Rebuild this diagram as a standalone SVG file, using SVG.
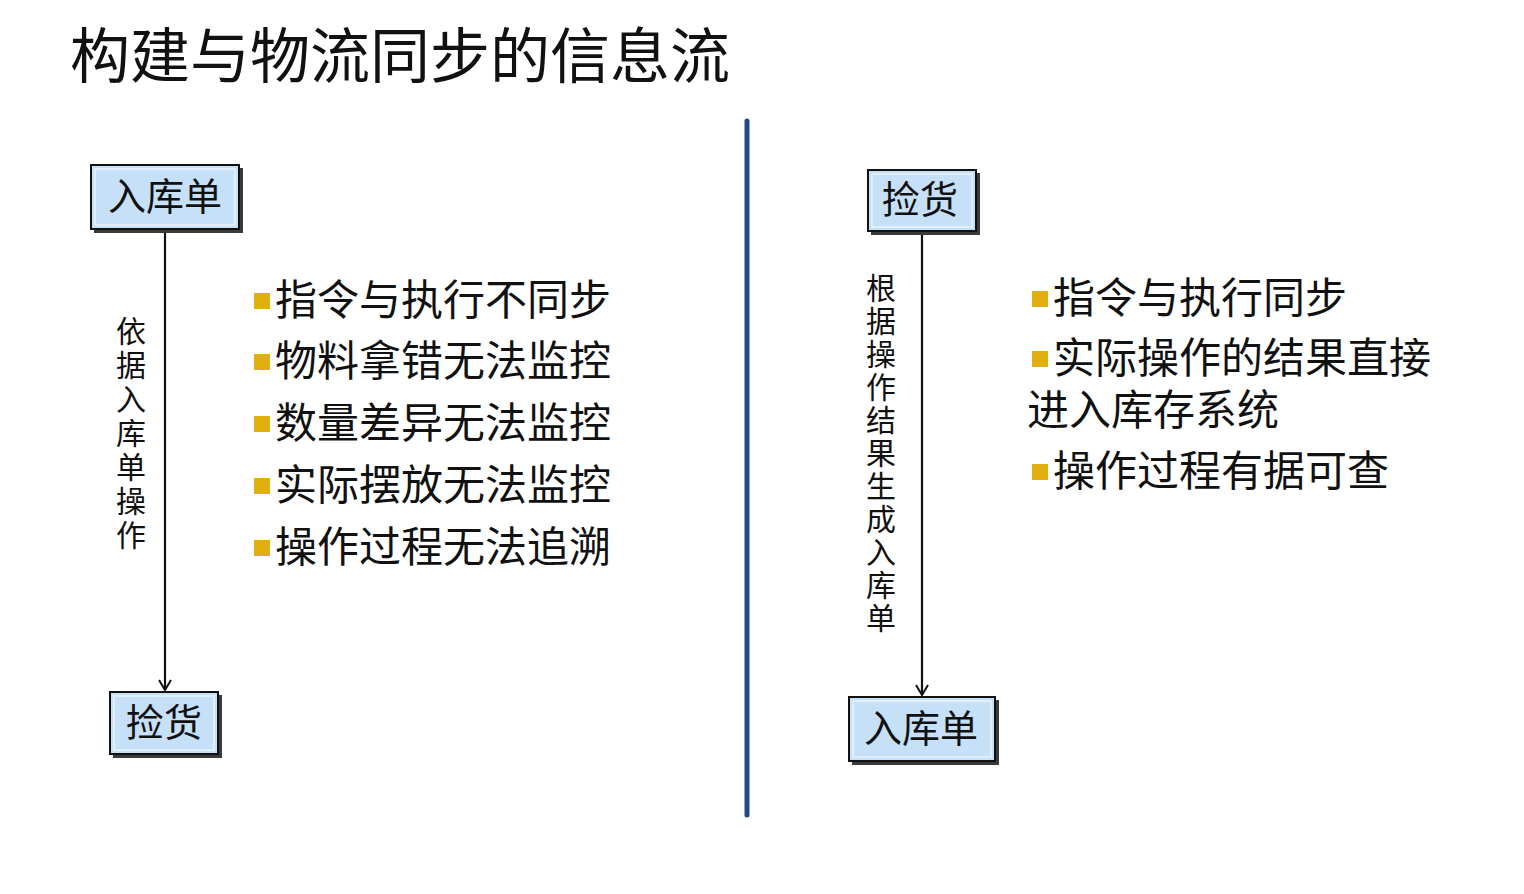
<svg xmlns="http://www.w3.org/2000/svg" width="1524" height="894" viewBox="0 0 1524 894">
<style>
text{font-family:"Noto Sans CJK SC","Noto Sans",sans-serif;fill:#111}
.box{fill:#c6e0f8;stroke:#111;stroke-width:2}
.inner{fill:none;stroke:#e8f3fd;stroke-width:1.5}
.sh{fill:#3a3a3a}
.bt{font-size:38px;text-anchor:middle}
.li{font-size:42px}
.vt{font-size:30px;text-anchor:middle}
.sq{fill:#e0ae10}
.conn{stroke:#111;stroke-width:2.2;fill:none}
</style>
<defs>
<marker id="ah" markerWidth="14" markerHeight="14" refX="12" refY="7" orient="auto" markerUnits="userSpaceOnUse" viewBox="0 0 14 14">
<path d="M2,1 L12,7 L2,13" fill="none" stroke="#111" stroke-width="2"/>
</marker>
</defs>
<rect width="1524" height="894" fill="#fff"/>
<text x="70" y="78" style="font-size:60px">构建与物流同步的信息流</text>
<line x1="747" y1="121" x2="747" y2="815" stroke="#1f4a86" stroke-width="5" stroke-linecap="round"/>
<g id="connectors">
<line class="conn" x1="165" y1="231" x2="165" y2="690" marker-end="url(#ah)"/>
<line class="conn" x1="922" y1="233" x2="922" y2="695" marker-end="url(#ah)"/>
</g>
<g id="left-top">
<rect class="sh" x="94" y="168" width="149" height="65"/>
<rect class="box" x="91" y="165" width="148" height="64"/>
<rect class="inner" x="95" y="169" width="140" height="56"/>
<text class="bt" x="165" y="210">入库单</text>
</g>
<g id="left-bottom">
<rect class="sh" x="113" y="695" width="109" height="63"/>
<rect class="box" x="110" y="692" width="108" height="62"/>
<rect class="inner" x="114" y="696" width="100" height="54"/>
<text class="bt" x="164" y="736">捡货</text>
</g>
<g id="left-label">
<text class="vt" x="131" y="342">依</text>
<text class="vt" x="131" y="376">据</text>
<text class="vt" x="131" y="410">入</text>
<text class="vt" x="131" y="444">库</text>
<text class="vt" x="131" y="478">单</text>
<text class="vt" x="131" y="512">操</text>
<text class="vt" x="131" y="546">作</text>
</g>
<g id="left-list">
<rect class="sq" x="254" y="293" width="16" height="16"/>
<text class="li" x="275" y="315">指令与执行不同步</text>
<rect class="sq" x="254" y="354" width="16" height="16"/>
<text class="li" x="275" y="376">物料拿错无法监控</text>
<rect class="sq" x="254" y="416" width="16" height="16"/>
<text class="li" x="275" y="438">数量差异无法监控</text>
<rect class="sq" x="254" y="478" width="16" height="16"/>
<text class="li" x="275" y="500">实际摆放无法监控</text>
<rect class="sq" x="254" y="540" width="16" height="16"/>
<text class="li" x="275" y="562">操作过程无法追溯</text>
</g>
<g id="right-top">
<rect class="sh" x="871" y="173" width="109" height="62"/>
<rect class="box" x="868" y="170" width="108" height="61"/>
<rect class="inner" x="872" y="174" width="100" height="53"/>
<text class="bt" x="920" y="213">捡货</text>
</g>
<g id="right-bottom">
<rect class="sh" x="852" y="700" width="147" height="65"/>
<rect class="box" x="849" y="697" width="146" height="64"/>
<rect class="inner" x="853" y="701" width="138" height="56"/>
<text class="bt" x="921" y="742">入库单</text>
</g>
<g id="right-label">
<text class="vt" x="881" y="299">根</text>
<text class="vt" x="881" y="332">据</text>
<text class="vt" x="881" y="365">操</text>
<text class="vt" x="881" y="398">作</text>
<text class="vt" x="881" y="431">结</text>
<text class="vt" x="881" y="464">果</text>
<text class="vt" x="881" y="497">生</text>
<text class="vt" x="881" y="530">成</text>
<text class="vt" x="881" y="563">入</text>
<text class="vt" x="881" y="596">库</text>
<text class="vt" x="881" y="629">单</text>
</g>
<g id="right-list">
<rect class="sq" x="1032" y="291" width="16" height="16"/>
<text class="li" x="1053" y="313">指令与执行同步</text>
<rect class="sq" x="1032" y="351" width="16" height="16"/>
<text class="li" x="1053" y="373">实际操作的结果直接</text>
<text class="li" x="1027" y="425">进入库存系统</text>
<rect class="sq" x="1032" y="464" width="16" height="16"/>
<text class="li" x="1053" y="486">操作过程有据可查</text>
</g>
</svg>
